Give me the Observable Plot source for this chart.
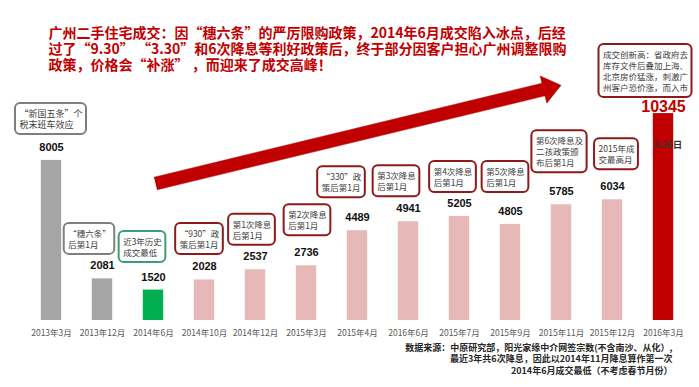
<!DOCTYPE html>
<html><head><meta charset="utf-8">
<script src="https://cdn.jsdelivr.net/npm/d3@7"></script>
<script src="https://cdn.jsdelivr.net/npm/@observablehq/plot@0.6"></script>
<style>html,body{margin:0;padding:0;background:#fff;} #chart svg{display:block}</style>
</head><body><div id="chart"></div>
<script>
// ---------- data ----------
const months = ["2013年3月","2013年12月","2014年6月","2014年10月","2014年12月","2015年3月","2015年4月","2016年6月","2015年7月","2015年9月","2015年11月","2015年12月","2016年3月"];
const deals = [8005, 2081, 1520, 2028, 2537, 2736, 4489, 4941, 5205, 4805, 5785, 6034, 10345];
const noteLines = [
  ["“新国五条”个","税末班车效应"],
  ["“穗六条”","后第1月"],
  ["近3年历史","成交最低"],
  ["“930”政","策后第1月"],
  ["第1次降息","后第1月"],
  ["第2次降息","后第1月"],
  ["“330”政","策后第1月"],
  ["第3次降息","后第1月"],
  ["第4次降息","后第1月"],
  ["第5次降息","后第1月"],
  ["第6次降息及","二孩政策颁","布后第1月"],
  ["2015年成","交最高月"],
  ["成交创新高：省政府去","库存文件后叠加上海、","北京房价猛涨，刺激广","州客户恐价涨，而入市"]
];
const titleLines = [
  "广州二手住宅成交：因“穗六条”的严厉限购政策，2014年6月成交陷入冰点，后经",
  "过了“9.30” “3.30”和6次降息等利好政策后，终于部分因客户担心广州调整限购",
  "政策，价格会“补涨” ，而迎来了成交高峰！"
];
const sourceLines = [
  "数据来源：中原研究部，阳光家缘中介网签宗数(不含南沙、从化）,",
  "最近3年共6次降息，因此以2014年11月降息算作第一次",
  "2014年6月成交最低（不考虑春节月份）"
];
const barTag = "3.30日";
// trend arrow ends, in chart units (category index, deals)
const arrowTail = [2.04, 6850];
const arrowTip = [9.99, 11760];

// ---------- layout / style ----------
const FONT = '"Noto Sans CJK SC", "Noto Sans", sans-serif';
const noteDx = [-0.5, -13, -11, -5, -3.5, 1, -16, -12, -6.5, -5, -2, 4, -18];
const noteLift = [26, 24.5, 27.5, 25.5, 24.5, 30, 33, 25, 24, 32, 32, 30, 16];
const GRAY = "#a5a5a5", GREEN = "#00b050", PINK = "#e6b8b7", RED = "#c00000";
const barColor = i => i < 2 ? GRAY : (i === 2 ? GREEN : (i === deals.length - 1 ? RED : PINK));
const noteColor = i => i < 2 ? "#7f7f7f" : (i === 2 ? "#3a9e78" : "#8e1b1b");

const xDomain = [-0.5, months.length - 0.5], xRange = [25.5, 688.5];
const yDomain = [0, 16000], yRange = [320, 0];
const xs = Plot.scale({x: {type: "linear", domain: xDomain, range: xRange}});
const ys = Plot.scale({y: {type: "linear", domain: yDomain, range: yRange}});

const ctx = document.createElement("canvas").getContext("2d");
function tw(s, size) { ctx.font = `${size}px ${FONT}`; return ctx.measureText(s).width; }

const bars = deals.map((v, i) => ({i, v, month: months[i]}));

const LH = 11;
const boxes = noteLines.map((lines, i) => {
  const fs = i === 0 ? 9 : 8.5;
  const w = Math.max(...lines.map(s => tw(s, fs))) + 8;
  const h = lines.length * LH + 9;
  const cx = xs.apply(i) + noteDx[i];
  const bottom = ys.apply(deals[i]) - noteLift[i];
  return {
    i, fs, text: lines.join("\n"), stroke: noteColor(i),
    x1: xs.invert(cx - w / 2), x2: xs.invert(cx + w / 2),
    y1: ys.invert(bottom), y2: ys.invert(bottom - h),
    tx: xs.invert(cx - w / 2 + 4), ty: ys.invert(bottom - h / 2)
  };
});

// arrow polygon
function arrowPolygon() {
  const T0 = [xs.apply(arrowTail[0]), ys.apply(arrowTail[1])];
  const T1 = [xs.apply(arrowTip[0]), ys.apply(arrowTip[1])];
  const dx = T1[0] - T0[0], dy = T1[1] - T0[1], L = Math.hypot(dx, dy);
  const u = [dx / L, dy / L], n = [-u[1], u[0]];
  const headLen = 18, headHalf = 14, shaftHalf = 6.5;
  const B = [T1[0] - u[0] * headLen, T1[1] - u[1] * headLen];
  const pts = [
    [T0[0] + n[0] * shaftHalf, T0[1] + n[1] * shaftHalf],
    [B[0] + n[0] * shaftHalf, B[1] + n[1] * shaftHalf],
    [B[0] + n[0] * headHalf, B[1] + n[1] * headHalf],
    T1,
    [B[0] - n[0] * headHalf, B[1] - n[1] * headHalf],
    [B[0] - n[0] * shaftHalf, B[1] - n[1] * shaftHalf],
    [T0[0] - n[0] * shaftHalf, T0[1] - n[1] * shaftHalf]
  ];
  return pts.map(([px, py]) => ({x: xs.invert(px), y: ys.invert(py)}));
}

const chart = Plot.plot({
  width: 699, height: 387,
  marginTop: 0, marginRight: 0, marginBottom: 67, marginLeft: 0,
  style: {fontFamily: FONT, background: "#fff", overflow: "visible"},
  x: {type: "linear", domain: xDomain, range: xRange, axis: null},
  y: {type: "linear", domain: yDomain, axis: null},
  color: {type: "identity"},
  marks: [
    Plot.rectY(bars, {x1: d => d.i - 0.2, x2: d => d.i + 0.2, y: "v", fill: d => barColor(d.i)}),
    Plot.line(arrowPolygon(), {x: "x", y: "y", fill: RED, stroke: "#b00000", strokeWidth: 0.5}),
    Plot.rect(boxes, {x1: "x1", x2: "x2", y1: "y1", y2: "y2", fill: "#fff", stroke: "stroke", strokeWidth: 2, rx: 5, ry: 5}),
    Plot.text(boxes, {x: "tx", y: "ty", text: "text", textAnchor: "start", lineAnchor: "middle", fontSize: d => d.fs, lineHeight: LH / 8.5, fill: "#404040"}),
    Plot.text(bars.slice(0, -1), {x: "i", y: "v", text: d => String(d.v), dy: -13, lineAnchor: "middle", fontSize: 11, fontWeight: "bold", fill: "#111", fontFamily: '"Liberation Sans", Arial, sans-serif'}),
    Plot.text(bars.slice(-1), {x: "i", y: "v", text: d => String(d.v), dy: -7, lineAnchor: "middle", fontSize: 16, fontWeight: "bold", fill: RED, fontFamily: '"Liberation Sans", Arial, sans-serif'}),
    Plot.text(bars.slice(-1), {x: "i", y: "v", text: () => barTag, dx: 4, dy: 31, lineAnchor: "middle", fontSize: 9.5, fontWeight: "bold", fill: "#333"}),
    Plot.text(bars, {x: "i", y: () => 0, text: "month", dy: 13, lineAnchor: "middle", fontSize: 8.5, fill: "#595959"}),
    Plot.text([titleLines.join("\n")], {frameAnchor: "top-left", dx: 48, dy: 26, text: d => d, textAnchor: "start", lineAnchor: "top", fontSize: 14, fontWeight: "bold", fill: RED, lineHeight: 16 / 14}),
    Plot.text([sourceLines.join("\n")], {frameAnchor: "bottom-right", dx: -27, dy: 22, text: d => d, textAnchor: "end", lineAnchor: "top", fontSize: 9, fontWeight: "bold", fill: "#262626", lineHeight: 11.5 / 9})
  ]
});
document.getElementById("chart").appendChild(chart);
</script>
</body></html>
